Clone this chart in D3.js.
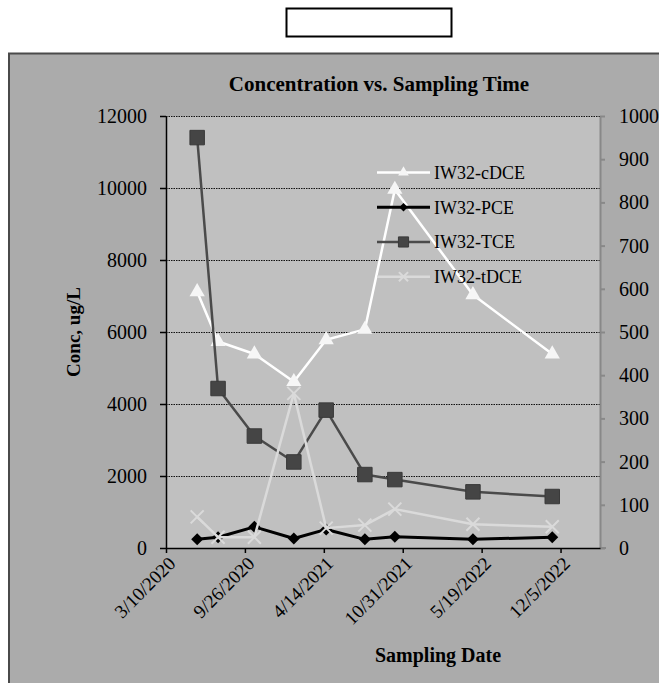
<!DOCTYPE html>
<html>
<head>
<meta charset="utf-8">
<script src="https://cdn.jsdelivr.net/npm/d3@7"></script>
<style>
  html, body { margin: 0; padding: 0; background: #ffffff; }
  svg { display: block; }
  svg text { font-family: "Liberation Serif", "Times New Roman", serif; fill: #000; }
</style>
</head>
<body>
<svg id="chart" width="659" height="683"></svg>
<script>
// Sampling dates (ISO) for well IW32
const sampleDates = ["2020-05-28", "2020-07-20", "2020-10-20", "2021-01-28", "2021-04-20",
                     "2021-07-27", "2021-10-11", "2022-04-27", "2022-11-14"];
// Concentrations, ug/L
const tce  = [11400, 4430, 3110, 2390, 3830, 2040, 1900, 1560, 1430];   // primary axis
const cdce = [593, 478, 449, 385, 482, 506, 830, 586, 449];             // secondary axis
const pce  = [20, 25, 49, 22, 43, 20, 26, 20, 25];                      // secondary axis
const tdce = [72, 25, 25, 358, 46, 53, 90, 55, 49];                     // secondary axis

const xTickLabels = ["3/10/2020", "9/26/2020", "4/14/2021", "10/31/2021", "5/19/2022", "12/5/2022"];
const leftTicks  = [0, 2000, 4000, 6000, 8000, 10000, 12000];
const rightTicks = [0, 100, 200, 300, 400, 500, 600, 700, 800, 900, 1000];
const seriesNames = ["IW32-cDCE", "IW32-PCE", "IW32-TCE", "IW32-tDCE"];

const SERIF = '"Liberation Serif", "Times New Roman", serif';
const parseIso = d3.utcParse("%Y-%m-%d");
const parseTick = d3.utcParse("%m/%d/%Y");
const dates = sampleDates.map(parseIso);
const tickDates = xTickLabels.map(parseTick);

const svg = d3.select("#chart");

// header box above the chart
svg.append("rect").attr("x", 286.5).attr("y", 8.5).attr("width", 165).attr("height", 28)
  .attr("fill", "#fff").attr("stroke", "#000").attr("stroke-width", 2);

// chart area
svg.append("rect").attr("x", 9).attr("y", 53.5).attr("width", 700).attr("height", 700)
  .attr("fill", "#ababab").attr("stroke", "#4a4a4a").attr("stroke-width", 2);

const plot = { left: 166, right: 600, top: 116, bottom: 548 };

const xStart = tickDates[0];
const xEnd = d3.utcDay.offset(xStart, 1100);
const x = d3.scaleUtc().domain([xStart, xEnd]).range([plot.left, plot.right]);
const yL = d3.scaleLinear().domain([0, 12000]).range([plot.bottom, plot.top]);
const yR = d3.scaleLinear().domain([0, 1000]).range([plot.bottom, plot.top]);

// plot background
svg.append("rect").attr("x", plot.left).attr("y", plot.top)
  .attr("width", plot.right - plot.left).attr("height", plot.bottom - plot.top)
  .attr("fill", "#c0c0c0");

// dotted gridlines
svg.append("g").selectAll("line").data(leftTicks.filter(v => v > 0)).join("line")
  .attr("x1", plot.left).attr("x2", plot.right)
  .attr("y1", d => yL(d) + 0.5).attr("y2", d => yL(d) + 0.5)
  .attr("stroke", "#111").attr("stroke-width", 1).attr("stroke-dasharray", "1.5,1");

// title
svg.append("text").attr("x", 379).attr("y", 91).attr("text-anchor", "middle")
  .style("font-family", SERIF)
  .attr("font-size", 21).attr("font-weight", "bold").text("Concentration vs. Sampling Time");

// left axis
const gL = svg.append("g").attr("transform", `translate(${plot.left},0)`)
  .call(d3.axisLeft(yL).tickValues(leftTicks).tickSize(6).tickSizeOuter(0).tickPadding(13)
    .tickFormat(d3.format("d")));
gL.attr("font-family", SERIF);
gL.selectAll("path.domain").attr("stroke", "#000").attr("stroke-width", 1.5);
gL.selectAll(".tick line").attr("stroke", "#000").attr("stroke-width", 1.5);
gL.selectAll(".tick text").attr("font-size", 20).style("font-family", SERIF).attr("fill", "#000");

// right axis
const gR = svg.append("g").attr("transform", `translate(${plot.right},0)`)
  .call(d3.axisRight(yR).tickValues(rightTicks).tickSize(5).tickSizeOuter(0).tickPadding(14)
    .tickFormat(d3.format("d")));
gR.attr("font-family", SERIF);
gR.selectAll("path.domain").attr("stroke", "#888").attr("stroke-width", 2);
gR.selectAll(".tick line").attr("stroke", "#888").attr("stroke-width", 2);
gR.selectAll(".tick text").attr("font-size", 20).style("font-family", SERIF).attr("fill", "#000");

// bottom axis
svg.append("line").attr("x1", plot.right).attr("x2", plot.right + 6)
  .attr("y1", plot.bottom).attr("y2", plot.bottom).attr("stroke", "#888").attr("stroke-width", 2);
const gB = svg.append("g").attr("transform", `translate(0,${plot.bottom})`)
  .call(d3.axisBottom(x).tickValues(tickDates).tickSize(5).tickSizeOuter(0).tickFormat(""));
gB.selectAll("path.domain").attr("stroke", "#000").attr("stroke-width", 1.5);
gB.selectAll(".tick line").attr("stroke", "#000").attr("stroke-width", 1.5);

svg.append("g").selectAll("text").data(tickDates).join("text")
  .attr("transform", d => `translate(${x(d) + 6},${plot.bottom + 12}) rotate(-45)`)
  .attr("text-anchor", "end").attr("dy", "0.35em").attr("font-size", 19)
  .style("font-family", SERIF)
  .text((d, i) => xTickLabels[i]);

// axis titles
svg.append("text").attr("transform", `translate(80,${(plot.top + plot.bottom) / 2}) rotate(-90)`)
  .attr("text-anchor", "middle").attr("font-size", 19).attr("font-weight", "bold")
  .style("font-family", SERIF).text("Conc, ug/L");
svg.append("text").attr("x", 438).attr("y", 662).attr("text-anchor", "middle")
  .attr("font-size", 20).attr("font-weight", "bold")
  .style("font-family", SERIF).text("Sampling Date");

// marker shapes
const triPath = s => d3.symbol(d3.symbolTriangle, s)();
const sqPath = s => d3.symbol(d3.symbolSquare, s)();
const xPath = h => `M${-h},${-h}L${h},${h}M${-h},${h}L${h},${-h}`;

const series = [
  { name: seriesNames[0], vals: cdce, y: yR, color: "#ffffff", width: 2.5, marker: "tri", mfill: "#f6f6f6" },
  { name: seriesNames[1], vals: pce,  y: yR, color: "#000000", width: 3,   marker: "dia", mfill: "#000000" },
  { name: seriesNames[2], vals: tce,  y: yL, color: "#4a4a4a", width: 2.5, marker: "sq",  mfill: "#454545" },
  { name: seriesNames[3], vals: tdce, y: yR, color: "#dadada", width: 2.5, marker: "x",   mfill: "#dadada" }
];

function drawMarker(sel, kind, fill, scale) {
  if (kind === "tri") {
    sel.append("path").attr("d", triPath(100 * scale * scale)).attr("fill", fill);
  } else if (kind === "sq") {
    sel.append("path").attr("d", sqPath(210 * scale * scale)).attr("fill", fill)
      .attr("stroke", "#3a3a3a").attr("stroke-width", 1);
  } else if (kind === "dia") {
    sel.append("path").attr("d", sqPath(72 * scale * scale)).attr("transform", "rotate(45)").attr("fill", fill);
  } else {
    sel.append("path").attr("d", xPath(6.5 * scale)).attr("stroke", fill).attr("stroke-width", 2).attr("fill", "none");
  }
}

series.forEach(s => {
  const pts = s.vals.map((v, i) => ({ date: dates[i], v }));
  const line = d3.line().x(d => x(d.date)).y(d => s.y(d.v));
  const g = svg.append("g");
  g.append("path").datum(pts).attr("d", line).attr("fill", "none")
    .attr("stroke", s.color).attr("stroke-width", s.width).attr("stroke-linejoin", "round");
  g.selectAll("g.m").data(pts).join("g").attr("class", "m")
    .attr("transform", d => `translate(${x(d.date)},${s.y(d.v)})`)
    .each(function () { drawMarker(d3.select(this), s.marker, s.mfill, 1); });
});

// legend
const legendY = d3.scalePoint().domain(seriesNames).range([172.5, 276.7]);
const lg = svg.append("g");
series.forEach(s => {
  const yy = legendY(s.name);
  lg.append("line").attr("x1", 377).attr("x2", 430).attr("y1", yy).attr("y2", yy)
    .attr("stroke", s.color).attr("stroke-width", s.width);
  const m = lg.append("g").attr("transform", `translate(403.5,${yy})`);
  drawMarker(m, s.marker, s.mfill, 0.7);
  lg.append("text").attr("x", 434).attr("y", yy).attr("dy", "0.35em").attr("font-size", 18)
    .style("font-family", SERIF).text(s.name);
});
</script>
</body>
</html>
